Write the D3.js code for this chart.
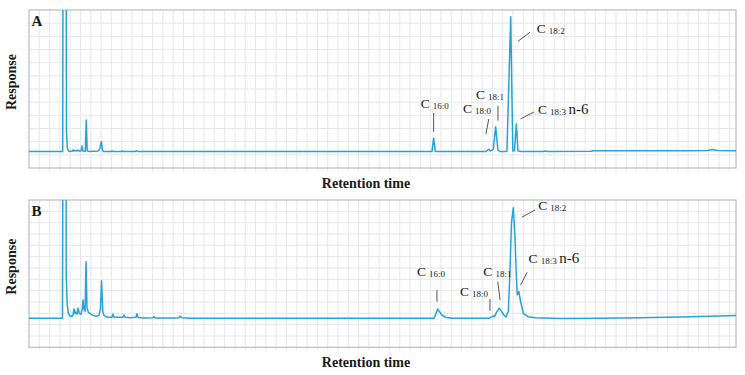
<!DOCTYPE html>
<html>
<head>
<meta charset="utf-8">
<script src="https://cdn.jsdelivr.net/npm/d3@7/dist/d3.min.js"></script>
<style>
  body { margin: 0; background: #fff; }
  svg { display: block; }
  .serif { font-family: "Liberation Serif", "DejaVu Serif", serif; fill: #1a1a1a; }
</style>
</head>
<body>
<div id="chart"></div>
<script>
"use strict";

// trace A: retention time (min) and detector response (arbitrary, baseline = 0)
var timeA = [0, 1.43, 1.46, 1.56, 1.59, 1.63, 1.70, 1.85, 1.87, 1.90, 1.98, 2.04, 2.08, 2.15, 2.21, 2.25, 2.29,
  2.39, 2.43, 2.47, 2.55, 2.93, 3.01, 3.07, 3.12, 3.20, 3.50, 3.52, 3.56, 3.93, 3.95, 4.00, 4.52, 4.54, 4.60,
  10.0, 17.10, 17.17, 17.24, 19.40, 19.50, 19.58, 19.70, 19.80, 19.90, 19.98, 20.28, 20.44, 20.53, 20.60,
  20.68, 20.75, 20.90, 21.80, 21.90, 22.0, 23.85, 23.95, 24.2, 27.9, 28.8, 29.0, 29.2, 30.0];
var respA = [0, 0, 300, 300, 14, 2, 0, 0.3, 1.2, 0.3, 0.8, 0.3, 1.0, 0.2, 0.5, 3.8, 0.3,
  0.2, 22.3, 0.4, 0, 0.3, 2.0, 7.1, 0.5, 0, 0, 0.5, 0, 0, 0.4, 0, 0, 0.5, 0,
  0, 0, 9.5, 0, 0, 1.6, 0.3, 1.5, 17.5, 0.8, 0, 0, 95.3, 0.3, 0.5,
  19.4, 0.3, 0, 0, 0.3, 0, 0.1, 0.5, 0.5, 0.5, 0.6, 1.4, 0.6, 0.5];

// trace B
var timeB = [0, 1.42, 1.46, 1.56, 1.58, 1.62, 1.67, 1.74, 1.82, 1.87, 1.91, 1.95, 1.99, 2.04, 2.08, 2.14,
  2.21, 2.26, 2.29, 2.33, 2.38, 2.42, 2.46, 2.52, 2.59, 2.72, 2.84, 2.97, 3.03, 3.08, 3.13, 3.18, 3.31,
  3.52, 3.56, 3.61, 3.86, 3.99, 4.03, 4.09, 4.29, 4.54, 4.58, 4.63, 4.92, 5.26, 5.30, 5.35, 6.20, 6.36,
  6.41, 6.49, 6.83, 17.19, 17.27, 17.34, 17.42, 17.53, 17.70, 17.95, 19.52, 19.58, 19.69, 19.75, 19.84,
  19.95, 20.03, 20.14, 20.24, 20.34, 20.41, 20.47, 20.55, 20.62, 20.68, 20.72, 20.79, 20.86, 20.98,
  21.17, 21.47, 22.53, 24.23, 25.93, 27.62, 30.0];
var respB = [0, 0, 300, 300, 36, 12, 4, 2, 1.5, 3, 7.9, 4, 5.3, 3.5, 8.7, 4,
  3.5, 8, 15.5, 8, 6, 47.9, 9, 5, 4, 2.5, 1.8, 2.5, 8, 31.8, 6, 2.5, 1,
  1, 3.6, 1, 0.8, 1, 2.8, 0.8, 0.5, 0.8, 3.9, 0.6, 0.3, 0.4, 1.5, 0.3, 0.3, 0.5,
  2, 0.5, 0, 0, 4, 7.9, 5.5, 2.5, 0.7, 0, 0, 0.8, 1.9, 1.5, 5,
  8.5, 6.5, 3, 1.1, 6, 40, 80, 93.5, 70, 35, 19.7, 22.5, 14, 4.2,
  1.4, 0.4, -0.2, 0, 0.5, 1.2, 2.4];

// peak labels (fatty acid) and where they sit, in time / response units
var peakSubs = ["16:0", "18:0", "18:1", "18:2", "18:3"];
var peakExtra = ["", "", "", "", "n-6"];
var labelTimeA = [16.62, 18.42, 18.97, 21.54, 21.60];
var labelRespA = [30.8, 27.2, 37.1, 83.8, 26.5];
var leaderA = [[17.17, 27.2, 17.17, 13.8], [19.51, 23.0, 19.39, 12.4], [19.90, 32.2, 19.90, 21.8],
  [21.26, 84.3, 20.75, 77.9], [21.43, 27.9, 20.86, 23.0]];
var labelTimeB = [16.46, 18.29, 19.28, 21.61, 21.20];
var labelRespB = [36.0, 18.9, 36.0, 91.5, 46.5];
var leaderB = [[17.31, 23.9, 17.31, 14.0], [19.56, 16.3, 19.56, 6.2], [19.89, 31.0, 19.99, 15.5],
  [21.47, 91.5, 20.91, 85.4], [21.14, 38.9, 20.86, 28.2]];

var width = 745,
    height = 375,
    lineColor = "#23a3de";

var svg = d3.select("#chart").append("svg")
    .attr("width", width)
    .attr("height", height);

var panels = [
  { name: "A", times: timeA, values: respA, top: 10, bottom: 168, yDomain: [-11.7, 100], rows: 12,
    labelT: labelTimeA, labelR: labelRespA, leaders: leaderA, titleY: 188 },
  { name: "B", times: timeB, values: respB, top: 200, bottom: 347.3, yDomain: [-24.5, 100], rows: 13,
    labelT: labelTimeB, labelR: labelRespB, leaders: leaderB, titleY: 367 }
];

panels.forEach(function(p, pi) {
  var x = d3.scaleLinear().domain([0, 30]).range([29, 736]);
  var y = d3.scaleLinear().domain(p.yDomain).range([p.bottom, p.top]);

  var g = svg.append("g");

  // grid
  var xs = d3.range(0.437, 30, 0.437);
  g.selectAll(".vg").data(xs).enter().append("line")
      .attr("x1", function(d) { return x(d); })
      .attr("x2", function(d) { return x(d); })
      .attr("y1", p.top)
      .attr("y2", p.bottom + 3)
      .style("stroke", "#e6e6ec")
      .style("stroke-width", 1);

  var ys = d3.range(1, p.rows).map(function(i) { return p.top + i * (p.bottom - p.top) / p.rows; });
  g.selectAll(".hg").data(ys).enter().append("line")
      .attr("x1", 29)
      .attr("x2", 736)
      .attr("y1", function(d) { return d; })
      .attr("y2", function(d) { return d; })
      .style("stroke", "#e6e6ec")
      .style("stroke-width", 1);

  g.append("rect")
      .attr("x", 29)
      .attr("y", p.top)
      .attr("width", 707)
      .attr("height", p.bottom - p.top)
      .style("fill", "none")
      .style("stroke", "#b9bac6")
      .style("stroke-width", 1.2);

  g.append("clipPath").attr("id", "clip" + pi)
    .append("rect")
      .attr("x", 29)
      .attr("y", p.top)
      .attr("width", 707)
      .attr("height", p.bottom - p.top);

  var line = d3.line()
      .x(function(d) { return x(d[0]); })
      .y(function(d) { return y(d[1]); });

  g.append("path")
      .datum(d3.zip(p.times, p.values))
      .attr("clip-path", "url(#clip" + pi + ")")
      .attr("d", line)
      .style("fill", "none")
      .style("stroke", lineColor)
      .style("stroke-width", 1.5)
      .style("stroke-linejoin", "round");

  // leaders
  g.selectAll(".ld").data(p.leaders).enter().append("line")
      .attr("x1", function(d) { return x(d[0]); })
      .attr("y1", function(d) { return y(d[1]); })
      .attr("x2", function(d) { return x(d[2]); })
      .attr("y2", function(d) { return y(d[3]); })
      .style("stroke", "#555")
      .style("stroke-width", 1);

  // peak labels
  peakSubs.forEach(function(sub, i) {
    var t = g.append("text")
        .attr("class", "serif")
        .attr("x", x(p.labelT[i]))
        .attr("y", y(p.labelR[i]))
        .style("font-size", "13.5px")
        .text("C");
    t.append("tspan")
        .attr("dx", 3)
        .attr("dy", 1)
        .style("font-size", "9px")
        .text(sub);
    if (peakExtra[i]) {
      t.append("tspan")
          .attr("dx", 2.5)
          .attr("dy", -1)
          .style("font-size", "15px")
          .text(peakExtra[i]);
    }
  });

  g.append("text")
      .attr("class", "serif")
      .attr("x", 31.5)
      .attr("y", p.top + 15.5)
      .style("font-size", "15px")
      .style("font-weight", "bold")
      .text(p.name);

  g.append("text")
      .attr("class", "serif")
      .attr("transform", "translate(16," + ((p.top + p.bottom) / 2 - 7) + ") rotate(-90)")
      .attr("text-anchor", "middle")
      .style("font-size", "14px")
      .style("font-weight", "bold")
      .text("Response");

  g.append("text")
      .attr("class", "serif")
      .attr("x", 366)
      .attr("y", p.titleY)
      .attr("text-anchor", "middle")
      .style("font-size", "14px")
      .style("font-weight", "bold")
      .text("Retention time");
});
</script>
</body>
</html>
